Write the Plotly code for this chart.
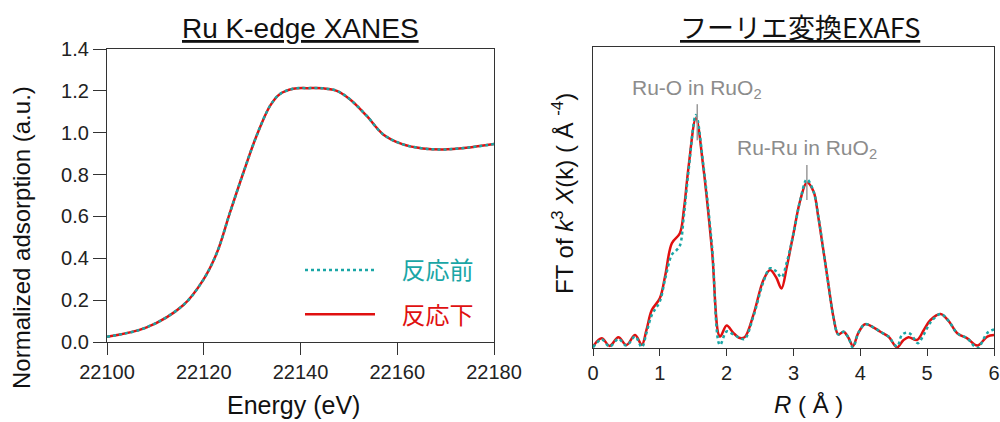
import plotly.graph_objects as go

# ---------------- XANES data ----------------
energy = [22100, 22108.2, 22115.8, 22119.9, 22122.7, 22125.4, 22128.2, 22130.9,
          22133.7, 22135.7, 22138.5, 22141.5, 22144.7, 22147.5, 22150.2, 22153.7,
          22157.1, 22161.2, 22165.3, 22169.5, 22174.3, 22180]
xanes_before = [0.025, 0.07, 0.177, 0.297, 0.425, 0.617, 0.81, 0.984,
                1.128, 1.184, 1.21, 1.213, 1.212, 1.2, 1.16, 1.08,
                0.992, 0.944, 0.925, 0.92, 0.928, 0.946]
xanes_after = [0.025, 0.07, 0.177, 0.297, 0.425, 0.617, 0.81, 0.984,
               1.128, 1.184, 1.21, 1.213, 1.212, 1.2, 1.16, 1.08,
               0.992, 0.944, 0.925, 0.92, 0.928, 0.946]
energy_ticks = [22100, 22120, 22140, 22160, 22180]

# ---------------- FT-EXAFS data ----------------
r_after = [0.0, 0.13, 0.25, 0.38, 0.5, 0.63, 0.73, 0.80, 0.88, 1.0, 1.08, 1.18, 1.30, 1.36,
           1.43, 1.54, 1.65, 1.78, 1.90, 2.0, 2.10, 2.2, 2.27, 2.4, 2.55, 2.65, 2.74, 2.82,
           2.9, 3.0, 3.1, 3.2, 3.3, 3.37, 3.45, 3.52, 3.6, 3.67, 3.75, 3.82, 3.89, 3.97,
           4.07, 4.20, 4.30, 4.42, 4.55, 4.64, 4.72, 4.85, 4.95, 5.05, 5.2, 5.32, 5.45,
           5.6, 5.75, 5.9, 6.0]
ft_after = [0.05, 0.32, 0.07, 0.36, 0.10, 0.43, 0.10, 0.6, 1.26, 1.65, 2.4, 3.48, 3.81, 4.6,
            6.02, 7.63, 6.02, 3.26, 0.38, 0.75, 0.5, 0.33, 0.36, 1.1, 2.26, 2.59, 2.35, 1.98,
            2.7, 3.81, 4.9, 5.5, 5.2, 4.36, 3.2, 2.15, 1.0, 0.45, 0.54, 0.35, 0.07, 0.5,
            0.79, 0.68, 0.54, 0.38, 0.02, 0.25, 0.36, 0.27, 0.6, 0.93, 1.13, 0.9, 0.49,
            0.32, 0.08, 0.38, 0.43]
r_before = [0.0, 0.13, 0.25, 0.38, 0.5, 0.63, 0.73, 0.80, 0.88, 1.0, 1.08, 1.18, 1.25, 1.30,
            1.36, 1.43, 1.54, 1.65, 1.78, 1.90, 2.0, 2.10, 2.2, 2.27, 2.4, 2.55, 2.65, 2.74,
            2.82, 2.9, 3.0, 3.1, 3.2, 3.3, 3.37, 3.45, 3.52, 3.6, 3.67, 3.75, 3.82, 3.89,
            3.97, 4.07, 4.20, 4.30, 4.42, 4.55, 4.62, 4.69, 4.76, 4.86, 4.95, 5.05, 5.2,
            5.32, 5.45, 5.6, 5.75, 5.9, 6.0]
ft_before = [0.02, 0.28, 0.05, 0.30, 0.08, 0.38, 0.03, 0.5, 1.1, 1.55, 2.3, 3.1, 3.25, 3.4,
             4.4, 5.9, 7.74, 6.1, 3.4, 0.1, 0.55, 0.45, 0.33, 0.3, 1.05, 2.2, 2.65, 2.55,
             2.35, 2.85, 3.8, 4.9, 5.6, 5.2, 4.4, 3.2, 2.15, 1.0, 0.45, 0.54, 0.35, 0.02,
             0.5, 0.79, 0.68, 0.54, 0.38, 0.05, 0.43, 0.51, 0.45, 0.16, 0.45, 0.85, 1.13,
             0.9, 0.49, 0.32, 0.0, 0.5, 0.62]

TEAL = "#1aa6a6"
RED = "#e01010"
AX = "#333333"
FONT = "Liberation Sans, Arial, sans-serif"
CJK = "Noto Sans CJK JP, Liberation Sans, sans-serif"
PAD = "\u00a0\u00a0\u00a0\u00a0"

fig = go.Figure()

# Left: XANES
fig.add_trace(go.Scatter(x=energy, y=xanes_after, mode="lines", line_shape="spline",
                         line=dict(color=RED, width=2.5),
                         name=f"{PAD}<span style='color:{RED}'>反応下</span>",
                         legendgroup="b", legendrank=2, xaxis="x", yaxis="y"))
fig.add_trace(go.Scatter(x=energy, y=xanes_before, mode="lines", line_shape="spline",
                         line=dict(color=TEAL, width=2.5, dash="dot"),
                         name=f"{PAD}<span style='color:{TEAL}'>反応前</span>",
                         legendgroup="a", legendrank=1, xaxis="x", yaxis="y"))

# Right: FT-EXAFS
fig.add_trace(go.Scatter(x=r_after, y=ft_after, mode="lines", line_shape="spline",
                         line=dict(color=RED, width=2.5), showlegend=False,
                         xaxis="x2", yaxis="y2"))
fig.add_trace(go.Scatter(x=r_before, y=ft_before, mode="lines", line_shape="spline",
                         line=dict(color=TEAL, width=2.5, dash="dot"), showlegend=False,
                         xaxis="x2", yaxis="y2"))

axis_common = dict(showline=True, linecolor=AX, linewidth=1.3, mirror=True,
                   showgrid=False, zeroline=False, ticks="outside", tickcolor=AX,
                   automargin=False,
                   tickfont=dict(family=FONT, size=20, color="#222"))

fig.update_layout(
    width=1000, height=422,
    margin=dict(l=0, r=0, t=0, b=0, autoexpand=False),
    paper_bgcolor="white", plot_bgcolor="white",
    xaxis=dict(domain=[0.107, 0.494], range=[22100, 22180], tickvals=energy_ticks,
               ticktext=[str(v) for v in energy_ticks],
               ticklen=12, tickwidth=1.3, anchor="y", **axis_common),
    yaxis=dict(domain=[1 - 342 / 422, 1 - 49 / 422], range=[0, 1.4], dtick=0.2, tickformat=".1f",
               ticklen=13, tickwidth=1.3, anchor="x", **axis_common),
    xaxis2=dict(domain=[0.593, 0.994], range=[0, 6], dtick=1, ticklen=7, tickwidth=1.3,
                anchor="y2", **axis_common),
    yaxis2=dict(domain=[1 - 348 / 422, 1 - 47 / 422], range=[0, 10], showline=True, linecolor=AX,
                linewidth=1.3, mirror=True, showgrid=False, zeroline=False, ticks="",
                showticklabels=False, anchor="x2", automargin=False),
    legend=dict(x=0.30, y=1 - 248 / 422, xanchor="left", yanchor="top", bgcolor="rgba(0,0,0,0)",
                font=dict(family=CJK, size=24), itemwidth=70, tracegroupgap=10,
                traceorder="grouped"),
    showlegend=True,
)

def txt(text, x, y, size, color="#111", family=FONT, angle=0, ref="paper"):
    return dict(text=text, x=x, y=y, xref=ref if ref == "paper" else "x2",
                yref=ref if ref == "paper" else "y2", xanchor="center", yanchor="middle",
                textangle=angle, showarrow=False, font=dict(family=family, size=size, color=color))

ann = [
    txt("<u>Ru K-edge XANES</u>", 300 / 1000, 1 - 29 / 422, 28),
    txt("<u>フーリエ変換EXAFS</u>", 800 / 1000, 1 - 27 / 422, 27, family=CJK),
    txt("Energy (eV)", 293 / 1000, 1 - 405 / 422, 25),
    txt("Normalized adsorption (a.u.)", 21 / 1000, 1 - 238 / 422, 24, angle=-90),
    txt("<i>R</i> ( Å )", 808 / 1000, 1 - 404 / 422, 24),
    txt("FT of <i>k</i><sup>3</sup> <i>X</i>(k) ( Å <sup>-4</sup>)", 563 / 1000, 1 - 194 / 422, 24, angle=-90),
    txt("Ru-O in RuO<sub>2</sub>", 1.55, 8.6, 21, color="#8c8c8c", ref="data"),
    txt("Ru-Ru in RuO<sub>2</sub>", 3.2, 6.62, 21, color="#8c8c8c", ref="data"),
]
fig.update_layout(annotations=ann)

fig.add_shape(type="line", x0=1.56, x1=1.56, y0=6.9, y1=8.1, xref="x2", yref="y2",
              line=dict(color="#999999", width=1.5))
fig.add_shape(type="line", x0=3.2, x1=3.2, y0=4.92, y1=6.08, xref="x2", yref="y2",
              line=dict(color="#999999", width=1.5))

fig.write_html("out.html", config={"displayModeBar": False},
               post_script="document.body.style.margin='0';document.body.style.overflow='hidden';")
